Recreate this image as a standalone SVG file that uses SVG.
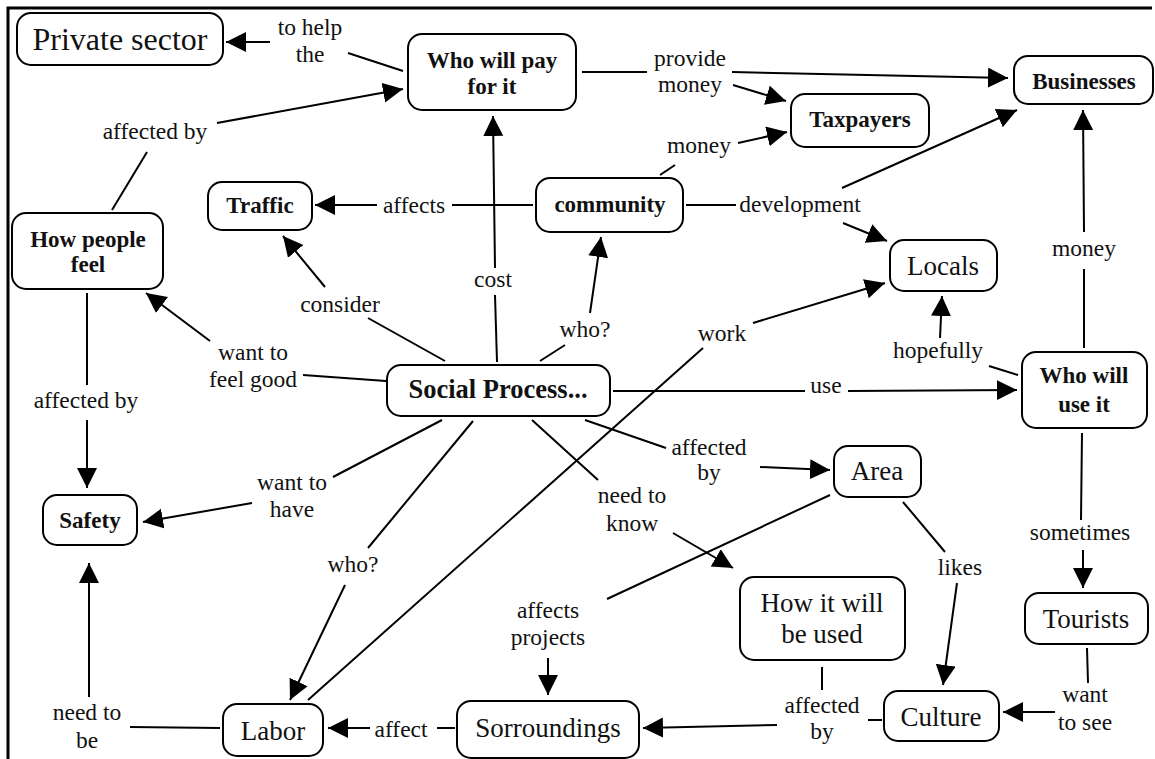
<svg xmlns="http://www.w3.org/2000/svg" width="1155" height="759" viewBox="0 0 1155 759">
<style>
.bx{fill:#fff;stroke:#000;stroke-width:2}
.t{font-family:"Liberation Serif","Times New Roman",serif;fill:#111;text-anchor:middle}
.r{font-size:27px}
.b{font-size:23px;font-weight:bold}
.l{font-size:23.5px}
.ln{stroke:#000;stroke-width:2;fill:none}
.ar{stroke:#000;stroke-width:2;fill:none;marker-end:url(#ah)}
</style>
<defs>
<marker id="ah" markerUnits="userSpaceOnUse" markerWidth="21" markerHeight="21" refX="20" refY="10" orient="auto">
<path d="M0,0 L20,10 L0,20 Z" fill="#000"/>
</marker>
</defs>
<rect width="1155" height="759" fill="#fff"/>
<path d="M8,759 L8,8 L1152,8" fill="none" stroke="#000" stroke-width="3"/>

<g id="connectors">
<line class="ln" x1="348" y1="53" x2="403" y2="71"/>
<line class="ln" x1="112" y1="210" x2="147" y2="152"/>
<line class="ln" x1="582" y1="72" x2="647" y2="72"/>
<line class="ln" x1="660" y1="175" x2="675" y2="165"/>
<line class="ln" x1="452" y1="205" x2="533" y2="205"/>
<line class="ln" x1="686" y1="205" x2="736" y2="205"/>
<line class="ln" x1="497" y1="362" x2="495" y2="295"/>
<line class="ln" x1="540" y1="361" x2="565" y2="345"/>
<line class="ln" x1="445" y1="361" x2="368" y2="318"/>
<line class="ln" x1="386" y1="381" x2="303" y2="375"/>
<line class="ln" x1="87" y1="293" x2="87" y2="385"/>
<line class="ln" x1="442" y1="420" x2="333" y2="477"/>
<line class="ln" x1="473" y1="421" x2="368" y2="548"/>
<line class="ln" x1="308" y1="700" x2="703" y2="348"/>
<line class="ln" x1="220" y1="728" x2="130" y2="727"/>
<line class="ln" x1="455" y1="728" x2="437" y2="728"/>
<line class="ln" x1="532" y1="420" x2="598" y2="480"/>
<line class="ln" x1="585" y1="420" x2="666" y2="448"/>
<line class="ln" x1="613" y1="391" x2="805" y2="391"/>
<line class="ln" x1="1018" y1="375" x2="989" y2="366"/>
<line class="ln" x1="1084" y1="348" x2="1084" y2="269"/>
<line class="ln" x1="1082" y1="433" x2="1081" y2="520"/>
<line class="ln" x1="1087" y1="648" x2="1088" y2="683"/>
<line class="ln" x1="903" y1="502" x2="945" y2="552"/>
<line class="ln" x1="830" y1="495" x2="607" y2="599"/>
<line class="ln" x1="822" y1="667" x2="822" y2="690"/>
<line class="ln" x1="868" y1="720" x2="882" y2="720"/>

<line class="ar" x1="270" y1="42" x2="226" y2="42"/>
<line class="ar" x1="217" y1="123" x2="403" y2="89"/>
<line class="ar" x1="732" y1="72" x2="1008" y2="78"/>
<line class="ar" x1="733" y1="85" x2="786" y2="101"/>
<line class="ar" x1="738" y1="143" x2="787" y2="132"/>
<line class="ar" x1="377" y1="205" x2="315" y2="205"/>
<line class="ar" x1="842" y1="188" x2="1017" y2="110"/>
<line class="ar" x1="843" y1="223" x2="887" y2="241"/>
<line class="ar" x1="495" y1="268" x2="493" y2="116"/>
<line class="ar" x1="590" y1="313" x2="601" y2="237"/>
<line class="ar" x1="325" y1="287" x2="283" y2="236"/>
<line class="ar" x1="210" y1="341" x2="146" y2="293"/>
<line class="ar" x1="87" y1="420" x2="87" y2="488"/>
<line class="ar" x1="252" y1="503" x2="143" y2="522"/>
<line class="ar" x1="345" y1="585" x2="290" y2="700"/>
<line class="ar" x1="753" y1="323" x2="885" y2="283"/>
<line class="ar" x1="89" y1="697" x2="89" y2="563"/>
<line class="ar" x1="370" y1="728" x2="328" y2="728"/>
<line class="ar" x1="673" y1="533" x2="733" y2="568"/>
<line class="ar" x1="760" y1="467" x2="830" y2="470"/>
<line class="ar" x1="848" y1="391" x2="1017" y2="390"/>
<line class="ar" x1="940" y1="338" x2="942" y2="296"/>
<line class="ar" x1="1084" y1="232" x2="1083" y2="110"/>
<line class="ar" x1="1083" y1="550" x2="1083" y2="588"/>
<line class="ar" x1="1055" y1="712" x2="1003" y2="712"/>
<line class="ar" x1="957" y1="583" x2="943" y2="685"/>
<line class="ar" x1="548" y1="658" x2="548" y2="695"/>
<line class="ar" x1="777" y1="725" x2="643" y2="728"/>

<g class="t l">
<text x="310" y="35">to help</text><text x="310" y="62">the</text>
<text x="155" y="139">affected by</text>
<text x="690" y="66">provide</text><text x="690" y="92">money</text>
<text x="699" y="153">money</text>
<text x="414" y="213">affects</text>
<text x="800" y="212">development</text>
<text x="493" y="287">cost</text>
<text x="585" y="337">who?</text>
<text x="340" y="312">consider</text>
<text x="253" y="360">want to</text><text x="253" y="387">feel good</text>
<text x="86" y="408">affected by</text>
<text x="292" y="490">want to</text><text x="292" y="517">have</text>
<text x="353" y="572">who?</text>
<text x="722" y="341">work</text>
<text x="87" y="720">need to</text><text x="87" y="748">be</text>
<text x="401" y="737">affect</text>
<text x="632" y="503">need to</text><text x="632" y="531">know</text>
<text x="709" y="455">affected</text><text x="709" y="480">by</text>
<text x="826" y="393">use</text>
<text x="938" y="358">hopefully</text>
<text x="1084" y="256">money</text>
<text x="1080" y="540">sometimes</text>
<text x="1085" y="702">want</text><text x="1085" y="730">to see</text>
<text x="960" y="575">likes</text>
<text x="548" y="618">affects</text><text x="548" y="645">projects</text>
<text x="822" y="713">affected</text><text x="822" y="739">by</text>
</g>
</g>

<g id="private"><rect class="bx" x="17" y="13" width="206" height="52" rx="14"/><text class="t" style="font-size:32px" x="120" y="50">Private sector</text></g>
<g id="whopay"><rect class="bx" x="408" y="34" width="168" height="76" rx="14"/><text class="t b" x="492" y="68">Who will pay</text><text class="t b" x="492" y="94">for it</text></g>
<g id="businesses"><rect class="bx" x="1014" y="56" width="139" height="48" rx="14"/><text class="t b" x="1084" y="89">Businesses</text></g>
<g id="taxpayers"><rect class="bx" x="791" y="94" width="138" height="53" rx="14"/><text class="t b" x="860" y="127">Taxpayers</text></g>
<g id="community"><rect class="bx" x="536" y="178" width="147" height="54" rx="14"/><text class="t b" x="610" y="212">community</text></g>
<g id="traffic"><rect class="bx" x="208" y="182" width="104" height="48" rx="14"/><text class="t b" x="260" y="213">Traffic</text></g>
<g id="howpeople"><rect class="bx" x="12" y="213" width="151" height="76" rx="14"/><text class="t b" x="88" y="247">How people</text><text class="t b" x="88" y="272">feel</text></g>
<g id="locals"><rect class="bx" x="890" y="240" width="107" height="51" rx="14"/><text class="t r" x="943" y="275">Locals</text></g>
<g id="whouse"><rect class="bx" x="1022" y="352" width="125" height="76" rx="14"/><text class="t b" x="1084" y="383">Who will</text><text class="t b" x="1084" y="412">use it</text></g>
<g id="social"><rect class="bx" x="387" y="365" width="223" height="51" rx="14"/><text class="t" style="font-size:26.5px;font-weight:bold" x="498" y="398">Social Process...</text></g>
<g id="area"><rect class="bx" x="834" y="446" width="87" height="51" rx="14"/><text class="t r" x="877" y="480">Area</text></g>
<g id="safety"><rect class="bx" x="43" y="495" width="94" height="50" rx="14"/><text class="t b" x="90" y="528">Safety</text></g>
<g id="howused"><rect class="bx" x="740" y="577" width="165" height="83" rx="14"/><text class="t r" x="822" y="612">How it will</text><text class="t r" x="822" y="643">be used</text></g>
<g id="tourists"><rect class="bx" x="1025" y="593" width="123" height="51" rx="14"/><text class="t r" x="1086" y="628">Tourists</text></g>
<g id="culture"><rect class="bx" x="884" y="691" width="115" height="50" rx="14"/><text class="t r" x="941" y="726">Culture</text></g>
<g id="sorroundings"><rect class="bx" x="457" y="701" width="182" height="57" rx="14"/><text class="t r" x="548" y="737">Sorroundings</text></g>
<g id="labor"><rect class="bx" x="223" y="704" width="100" height="52" rx="14"/><text class="t r" x="273" y="740">Labor</text></g>
</svg>
